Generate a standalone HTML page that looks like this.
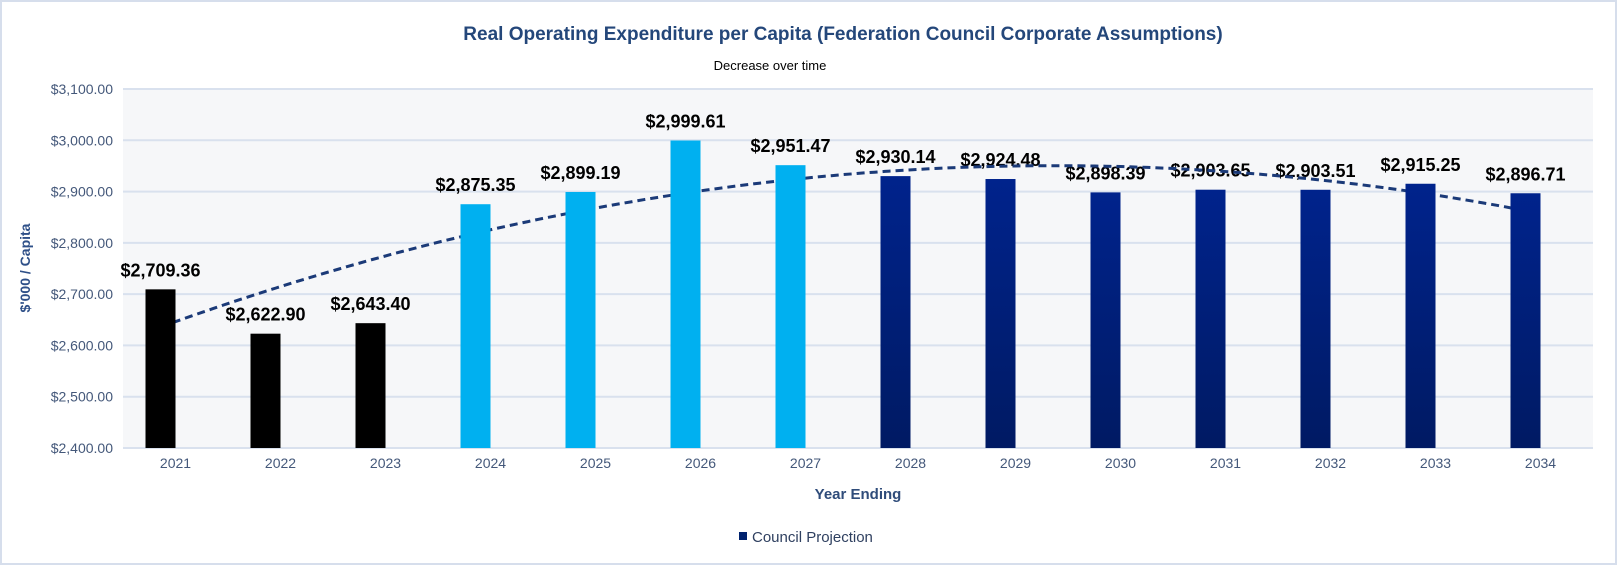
<!DOCTYPE html>
<html><head><meta charset="utf-8"><style>
html,body{margin:0;padding:0;background:#fff;}
svg{display:block;font-family:"Liberation Sans",Arial,sans-serif;}
</style></head><body>
<svg id="chart" width="1618" height="566" viewBox="0 0 1618 566">
<defs>
<linearGradient id="navy" x1="0" y1="0" x2="0" y2="1"><stop offset="0" stop-color="#00238c"/><stop offset="1" stop-color="#001a63"/></linearGradient>
</defs>
<rect x="1" y="1" width="1615" height="563" fill="#fff" stroke="#d6deec" stroke-width="2"/>
<rect x="123" y="89" width="1470" height="359" fill="#f6f7f9"/>
<text x="843" y="40" text-anchor="middle" font-size="19" font-weight="bold" fill="#24477a">Real Operating Expenditure per Capita (Federation Council Corporate Assumptions)</text>
<text x="770" y="70" text-anchor="middle" font-size="13" fill="#000">Decrease over time</text>
<text transform="translate(30,268) rotate(-90)" text-anchor="middle" font-size="14" font-weight="bold" fill="#2f5088">$'000 / Capita</text>
<text x="858" y="499" text-anchor="middle" font-size="15" font-weight="bold" fill="#2f4c7a">Year Ending</text>
<g>
<rect x="739" y="532" width="8" height="8" fill="#00226e"/>
<text x="752" y="542" font-size="15" fill="#2f4060">Council Projection</text>
</g>
<g id="grid"></g><g id="labels"></g><g id="trend"></g><g id="bars"></g><g id="xt"></g>
</svg>
<script>
const categories=["2021","2022","2023","2024","2025","2026","2027","2028","2029","2030","2031","2032","2033","2034"];
const values=[2709.36,2622.90,2643.40,2875.35,2899.19,2999.61,2951.47,2930.14,2924.48,2898.39,2903.65,2903.51,2915.25,2896.71];
const seriesType=["actual","actual","actual","budget","budget","budget","budget","proj","proj","proj","proj","proj","proj","proj"];
const yTicks=[2400,2500,2600,2700,2800,2900,3000,3100];
const NS="http://www.w3.org/2000/svg";
const X0=123,X1=1593,Y0=448,Y1=89,YMIN=2400,YMAX=3100;
const step=(X1-X0)/categories.length;
function xc(i){return X0+step*(i+0.5);}
function y(v){return Y0-(v-YMIN)/(YMAX-YMIN)*(Y0-Y1);}
function mk(t,a,p){const e=document.createElementNS(NS,t);for(const k in a)e.setAttribute(k,a[k]);document.getElementById(p).appendChild(e);return e;}
yTicks.forEach(v=>{
 const l=mk('line',{x1:X0,x2:X1,y1:y(v),y2:y(v),stroke:'#d9e1ee','stroke-width':2},'grid');
 
 
 const t=mk('text',{x:113,y:y(v)+5,'text-anchor':'end','font-size':14,fill:'#44587a'},'grid');
 t.textContent='$'+v.toLocaleString('en-US',{minimumFractionDigits:2});
 
 
});
const fills={actual:'#000000',budget:'#00b0f0',proj:'url(#navy)'};
categories.forEach((c,i)=>{
 const bx=xc(i)-30;
 const r=mk('rect',{x:bx,y:y(values[i]),width:30,height:Y0-y(values[i]),fill:fills[seriesType[i]]},'bars');
 
 
 const t=mk('text',{x:bx+15,y:y(values[i])-13,'text-anchor':'middle','font-size':18,'font-weight':'bold',fill:'#000'},'labels');
 t.textContent='$'+values[i].toLocaleString('en-US',{minimumFractionDigits:2});
 
 
 const xt=mk('text',{x:xc(i),y:468,'text-anchor':'middle','font-size':14,fill:'#44587a'},'xt');
 xt.textContent=c;
 
 
});
// quadratic least-squares trendline
(function(){
 const n=values.length;let S=[0,0,0,0,0],T=[0,0,0];
 for(let i=0;i<n;i++){const x=i+1;for(let k=0;k<5;k++)S[k]+=Math.pow(x,k);for(let k=0;k<3;k++)T[k]+=values[i]*Math.pow(x,k);}
 const M=[[S[0],S[1],S[2],T[0]],[S[1],S[2],S[3],T[1]],[S[2],S[3],S[4],T[2]]];
 for(let c=0;c<3;c++){for(let r=c+1;r<3;r++){const f=M[r][c]/M[c][c];for(let k=c;k<4;k++)M[r][k]-=f*M[c][k];}}
 const b=[0,0,0];for(let r=2;r>=0;r--){let s=M[r][3];for(let k=r+1;k<3;k++)s-=M[r][k]*b[k];b[r]=s/M[r][r];}
 let d='';for(let t=0;t<=130;t++){const x=1+t*(n-1)/130;const v=b[0]+b[1]*x+b[2]*x*x;d+=(t?'L':'M')+(xc(x-1)-15).toFixed(1)+','+y(v).toFixed(1);}
 const p=mk('path',{d:d,fill:'none',stroke:'#1b3a78','stroke-width':3,'stroke-dasharray':'8 5'},'trend');
 
 
})();
</script>
</body></html>
